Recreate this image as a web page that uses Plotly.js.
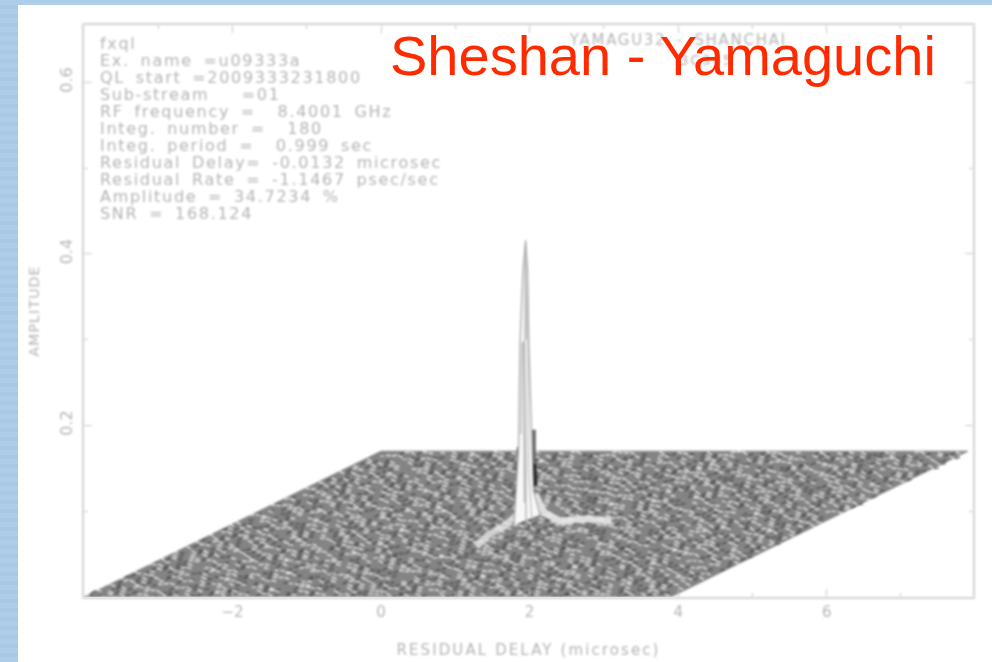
<!DOCTYPE html>
<html>
<head>
<meta charset="utf-8">
<script src="https://cdn.plot.ly/plotly-3.0.1.min.js"></script>
<style>
html,body{margin:0;padding:0;width:992px;height:662px;overflow:hidden;background:#aecde8;}
#stripes{position:absolute;left:0;top:0;width:18px;height:662px;
 background:repeating-linear-gradient(180deg,#aecde8 0,#aecde8 5px,#a8c9e6 5px,#a8c9e6 9px);}
#chart{position:absolute;left:18px;top:5px;width:974px;height:657px;background:#fff;}
.scatterlayer{filter:blur(1px);}
.xaxislayer-above,.yaxislayer-above,.g-xtitle,.g-ytitle,.xlines-above,.ylines-above{filter:blur(0.8px);}
.annotation:not(:last-of-type){filter:blur(0.8px);letter-spacing:1.7px;word-spacing:4px;}
.g-xtitle text{letter-spacing:2.1px;}
.g-ytitle text{letter-spacing:1.2px;}
</style>
</head>
<body>
<div id="stripes"></div>
<div id="chart"></div>
<script>
// Header text block of the fringe plot
const infoLines = [
 "fxql","Ex. name =u09333a","QL start =2009333231800","Sub-stream   =01",
 "RF frequency =  8.4001 GHz","Integ. number =  180","Integ. period =  0.999 sec",
 "Residual Delay= -0.0132 microsec","Residual Rate = -1.1467 psec/sec",
 "Amplitude = 34.7234 %","SNR = 168.124"];
const infoAmp = [0.646,0.626,0.606,0.586,0.566,0.546,0.526,0.507,0.487,0.467,0.447];
const baselineText = "YAMAGU32 - SHANCHAI";
const sourceText = "3C345";
const titleText = "Sheshan - Yamaguchi";

// Surface: estimated read of the wireframe floor texture (one digit per delay step, front row first)
const floorRows = [
"7203948156640917382251990467318805264419730682517749026381559027164833092871645102938476650193827461",
"1958073246881204759316627405918832076154490371286655012849973361840527719046328510662937418053692148",
"4402817965330769142588013579260441896723157084930662817540092386417795315268040971362885174209563370",
"8615390427795120638849274061335986702214560839171284056693207748519026334875619084120736952481607593",
"3079261584426857013996140378522067491830765942215608374911284650793360158429873016255497038621749430",
"6541708329910382576402956187734025148369081276433590128847601953726048115763294408862590173425967081",
"2298645017753941068216730849925103786642897130554028691373806142595470823169736015942487302658014796",
"9017432865021684793355208961447692031758304219667581043920276813549752016684393071521846095732600148",
"5326190784468075129937412056880315496272109486375521860794334906127582641950730859248173360147692503",
"7780521934016839245675093128646184972053385726104490237618851269403775316082942560713894126035587419",
"1463028759902517684323796405188642057391820654932107486351179084256603918725540862319071436985274260",
"8092376145557348019266018493370521846937146205789843512069922768105436397041285164870639452138076925",
"3715648290134902781659270356418897306125543871629004578936216349702585031786495102647328890165394720",
"6248091573780165342992816734059143658021976235408117692850343028617995406713280465129873356042971186",
"4950327168026389714405673182996217045389281640573236910847562907184331758926045013862749608137452295",
"0187563924471902385668340175293586014279630754815392207641985530217346892015763480924168725393061478",
"7326804159263057198134591862470716392048445108267983056124739817405562903672184459036287116047385920",
"2591730846618247905376028439156643708125990366124785132840697220579134864057319698203475416082753169",
"9403176258805391624741862905377281540693216908435712667035984154260387191536072948461370825996201374",
"5670284913342716089518093647212895730461687450219336841802576973015428664109273586792035481316904827",
"1829435607794056281363527018946310268975403192768450924731856602139877540316924568018743290661573248",
"8356102749420683957120749536881462907358134529086713302869541077623918456240185937061472395830746192",
"6014793582213875496087162304999520641783067348152906475891723346059217802536419648719208357124086365",
"3247960185586214037961489270353807195426701936582481330752048169924603781255890164237694081576329043",
"7861032495140579268332916854076123804957682410395763128906247353718094926583017463502984116272980356",
"0495218736692837104556043982617781309265413570982634814092567130276845319910528764036219845703146882",
"5132869047350496712868127340596044872193659021743586093261579446180529733871602945781036248916530274",
"9678304125824170965324359681702516490738270163859448105327984160762935301486572094923758104627391606",
"2340571986067318249581094726385971632805149628473091527660342718895014637259680341765290482136598703",
"6803125947490625738119672508343026187594715380926442096517833860721459925403176288134067590372184965",
"1587496230736041982544208371690653847201963714589320158678401923654270817639402581326945770182539416",
"4026839175218593674037961248505718932640428756130896613247905185342906174058269781409325616873049752",
"8751320649905174283662380597141824605379213047865519736024983607194352786013495062871243098564716230",
"3192608457446280719530745183629371480296586902314751846203579022648917350726194638503129467083865941",
"7465039128831507942689126047353206795814023789451662907813457645092836108351476920374589201736142598",
"0928175346260438591374861950272548136970364152806793315640289717903214586620497381059264873415076326",
"5314762908917305648226093481754091268537682014973548062196375835421076906837150924686213570491382749",
"9260481573043782916558271306498613729045150369482760314529876602847935113974260586317094928351706248",
"1873650294576914032781405869213270981463829504671935726048193964218357060129487350846621037598742136",
"6409218735328056149963724180576045387216941720653894158232607917586403242061935877129046538315794802",
"2756093481180642975304819627358931674502603589214076839147265481025736997402186359560318247163904825",
"8031546927965370182640952843171296850437418263075915384206719523806149376845120793025476981632470158",
"4687912035214805793196237506482518340769952071436830564172898345061927630582914460713258219046385704",
"0352781964758136420972648195306479201358867314592076241803569914286703755091362848120765347925610839"
];
const floorWidth = 7.9;      // delay span of a row
const floorShift = 4.0;      // delay shift, front to back
const floorStart = -4.0;     // delay of front-left corner
const floorDepth = 0.165;    // amplitude of back row
const floorStep = 0.0005;    // amplitude per digit
const floorEdgeX = [-4,3.9,7.9,0,-4];
const floorEdgeY = [0,0,0.17,0.17,0];

// Fringe peak (delay, amplitude)
const peakX = [1.79,1.85,1.87,1.91,1.946,1.973,1.99,2.02,2.05,2.14];
const peakY = [0.084,0.171,0.296,0.381,0.416,0.381,0.296,0.195,0.125,0.096];
const coreX = [1.946,1.945,1.945];
const coreY = [0.41,0.34,0.30];
const innerX = [1.93,1.935,1.945,1.95,1.955];
const innerY = [0.30,0.22,0.16,0.11,0.08];
const inner2X = [1.885,1.90,1.92,1.93];
const inner2Y = [0.19,0.296,0.296,0.11];
const inner3X = [1.97,1.975,1.985,2.03];
const inner3Y = [0.38,0.25,0.15,0.09];
const darkRightX = [2.06,2.06,2.08];
const darkRightY = [0.195,0.14,0.13];
const darkSpotX = [2.07,2.08];
const darkSpotY = [0.155,0.13];
const darkLeftX = [1.84,1.84];
const darkLeftY = [0.175,0.135];
const rateRidgeX = [1.28,1.45,1.65,1.85];
const rateRidgeY = [0.059,0.073,0.082,0.097];
const delayRidgeX = [2.07,2.2,2.4,2.75,3.1];
const delayRidgeY = [0.12,0.098,0.089,0.091,0.089];
// Axis
const xTickVals = [-2,0,2,4,6];
const yTickVals = [0.2,0.4,0.6];

const lightX=[],lightY=[],darkX=[],darkY=[];
floorRows.forEach((row,r)=>{
  const t=r/(floorRows.length-1);
  const n=row.length;
  const px=i=>floorStart+t*floorShift+floorWidth*i/(n-1);
  const py=i=>t*floorDepth+(+row[i])*floorStep;
  for(let i=0;i<n-1;i++){
    const d=+row[i];
    const x1=px(i+0.8), y1=py(i)*0.2+py(i+1)*0.8;
    if(d>=6){lightX.push(px(i),x1,null);lightY.push(py(i),y1,null);}
    else if(d<=2){darkX.push(px(i),x1,null);darkY.push(py(i),y1,null);}
  }
});

const hl={hoverinfo:'skip',showlegend:false,mode:'lines',type:'scatter'};
const traces=[
 {...hl,name:'floor base',x:floorEdgeX,y:floorEdgeY,fill:'toself',fillcolor:'#848484',line:{color:'#848484',width:1}},
 {...hl,name:'floor dark',x:darkX,y:darkY,line:{color:'#444444',width:1.2}},
 {...hl,name:'floor light',x:lightX,y:lightY,line:{color:'#ffffff',width:1.2}},
 {...hl,name:'dark right',x:darkRightX,y:darkRightY,line:{color:'#666',width:3.5}},
 {...hl,name:'dark spot',x:darkSpotX,y:darkSpotY,line:{color:'#222',width:3}},
 {...hl,name:'dark left',x:darkLeftX,y:darkLeftY,line:{color:'#777',width:2}},
 {...hl,name:'rate ridge',x:rateRidgeX,y:rateRidgeY,opacity:0.75,line:{color:'#eeeeee',width:7}},
 {...hl,name:'delay ridge',x:delayRidgeX,y:delayRidgeY,opacity:0.85,line:{color:'#f0f0f0',width:7}},
 {...hl,name:'peak',x:peakX,y:peakY,fill:'toself',fillcolor:'#f8f8f8',line:{color:'#a4a4a4',width:1.2}},
 {...hl,name:'core',x:coreX,y:coreY,line:{color:'#b4b4b4',width:2}},
 {...hl,name:'inner',x:innerX,y:innerY,line:{color:'#a8a8a8',width:1.2}},
 {...hl,name:'inner2',x:inner2X,y:inner2Y,line:{color:'#b4b4b4',width:1.2}},
 {...hl,name:'inner3',x:inner3X,y:inner3Y,line:{color:'#bcbcbc',width:1.2}}
];

const grey='#b4b4b4';
const gf={family:'"DejaVu Sans",sans-serif',size:15,color:grey};
const annotations=infoLines.map((t,i)=>({text:t,xref:'paper',yref:'y',x:0.0155,y:infoAmp[i],
  xanchor:'left',yanchor:'middle',showarrow:false,align:'left',font:{...gf,size:16}}));
annotations.push({text:baselineText,xref:'x',yref:'y',x:4.0,y:0.65,xanchor:'center',yanchor:'middle',showarrow:false,font:{...gf,size:15}});
annotations.push({text:sourceText,xref:'x',yref:'y',x:4.38,y:0.626,xanchor:'center',yanchor:'middle',showarrow:false,font:{...gf,size:14}});
annotations.push({text:titleText,xref:'x',yref:'y',x:3.80,y:0.632,xanchor:'center',yanchor:'middle',showarrow:false,
  font:{family:'"Liberation Sans",Arial,sans-serif',size:56,color:'#ff2a00'}});

const layout={
 width:974,height:657,margin:{l:66,r:19,t:20,b:65},
 paper_bgcolor:'#ffffff',plot_bgcolor:'#ffffff',showlegend:false,
 xaxis:{range:[-4,7.97],tickvals:xTickVals,ticks:'inside',ticklen:8,tickcolor:'#c8c8c8',tickwidth:1,
   showgrid:false,zeroline:false,showline:true,linecolor:'#d2d2d2',linewidth:2,mirror:'allticks',
   tickfont:gf,minor:{dtick:1,tick0:0,ticks:'inside',ticklen:4,tickcolor:'#c8c8c8',showgrid:false},
   title:{text:'RESIDUAL DELAY (microsec)',font:{...gf,size:15},standoff:24}},
 yaxis:{range:[0,0.667],tickvals:yTickVals,tickformat:'.1f',ticks:'inside',ticklen:8,tickcolor:'#c8c8c8',tickwidth:1,
   showgrid:false,zeroline:false,showline:true,linecolor:'#d2d2d2',linewidth:2,mirror:'allticks',
   tickangle:-90,tickfont:{...gf,size:16},ticklabelstandoff:4,minor:{dtick:0.1,tick0:0,ticks:'inside',ticklen:4,tickcolor:'#c8c8c8',showgrid:false},
   title:{text:'AMPLITUDE',font:{...gf,size:14},standoff:14}},
 annotations
};
Plotly.newPlot('chart',traces,layout,{displayModeBar:false,staticPlot:true});
</script>
</body>
</html>
